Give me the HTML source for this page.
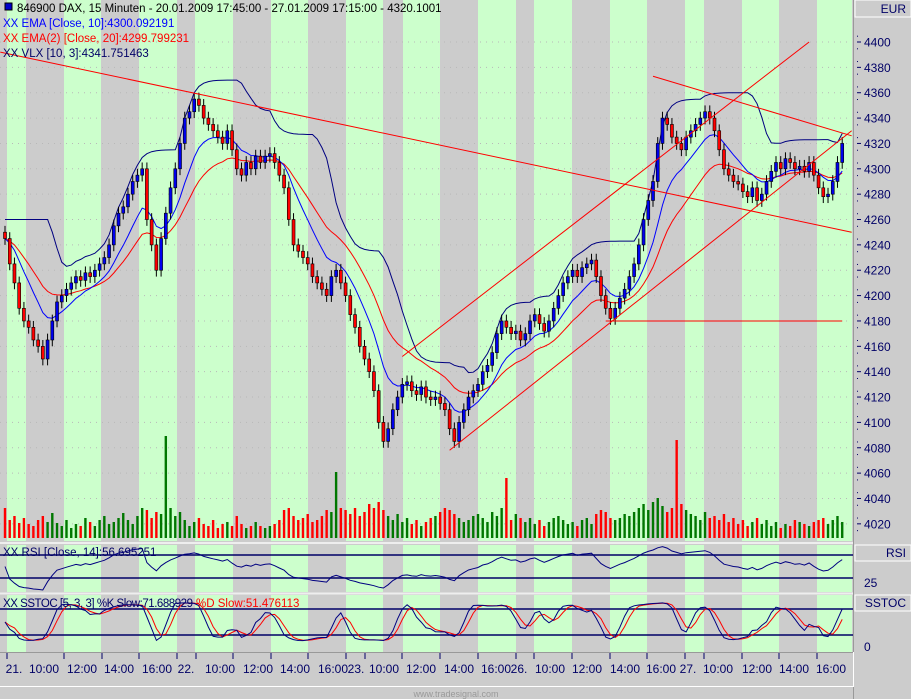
<!DOCTYPE html>
<html><head><meta charset="utf-8"><style>
html,body{margin:0;padding:0;background:#cccccc;}
svg{display:block;font-family:"Liberation Sans",sans-serif;}
</style></head><body>
<svg id="chart" width="911" height="699" viewBox="0 0 911 699" xmlns="http://www.w3.org/2000/svg">
<rect x="0" y="0" width="911" height="699" fill="#cccccc"/>
<g id="stripes"></g>
<g id="grid"></g>
<g id="vol"></g>
<g id="ind"></g>
<g id="candles"></g>
<g id="trend"></g>
<g id="sub"></g>
<g id="axes"></g>
<g font-size="11.5">
<rect x="5" y="3" width="7" height="7" fill="#0000cc" stroke="#000"/>
<text x="17" y="12" fill="#000">846900  DAX, 15 Minuten - 20.01.2009 17:45:00 - 27.01.2009 17:15:00 - 4320.1001</text>
<text x="3" y="27" fill="#0000ff">XX EMA [Close, 10]:4300.092191</text>
<text x="3" y="42" fill="#ff0000">XX EMA(2) [Close, 20]:4299.799231</text>
<text x="3" y="57" fill="#000066">XX VLX [10, 3]:4341.751463</text>
</g>
</svg>
<script>
const closes=[4245,4225,4210,4190,4180,4175,4165,4160,4150,4165,
4180,4195,4200,4205,4210,4215,4212,4218,4215,4220,
4225,4230,4240,4255,4265,4270,4280,4290,4295,4300,
4260,4240,4220,4245,4265,4285,4300,4320,4340,4345,
4355,4350,4340,4335,4330,4325,4320,4330,4315,4300,
4295,4305,4300,4310,4305,4310,4312,4305,4295,4285,
4260,4240,4235,4230,4225,4215,4210,4205,4200,4215,
4220,4210,4200,4185,4175,4160,4150,4140,4125,4100,
4085,4095,4110,4120,4130,4132,4125,4122,4128,4120,
4118,4120,4115,4110,4095,4085,4100,4110,4120,4125,
4130,4140,4145,4155,4170,4180,4175,4170,4172,4165,
4170,4180,4185,4178,4172,4180,4190,4200,4210,4215,
4220,4215,4222,4225,4228,4215,4200,4190,4182,4190,
4198,4205,4215,4225,4240,4260,4275,4290,4320,4340,
4335,4325,4320,4315,4325,4330,4335,4340,4345,4340,
4330,4315,4300,4295,4290,4288,4282,4278,4285,4275,
4280,4290,4298,4305,4300,4308,4305,4300,4302,4298,
4305,4295,4285,4278,4280,4290,4305,4320];
const volumes=[30,18,22,15,20,14,12,18,22,16,
25,15,12,18,10,14,12,20,16,12,
18,22,14,16,20,25,18,14,22,30,
28,20,26,24,102,30,22,26,18,12,
16,20,14,12,18,10,14,16,12,22,
14,10,12,16,12,10,12,14,18,28,
30,22,18,20,24,16,18,22,28,26,
66,30,28,24,30,22,26,34,30,36,
28,22,18,24,16,20,14,18,12,16,
20,22,26,30,28,24,20,16,18,22,
24,20,16,26,22,30,60,18,24,20,
16,20,14,18,12,16,20,22,18,14,
16,12,18,20,14,24,28,26,20,18,
20,24,22,26,30,34,28,36,40,32,
26,30,98,34,28,24,22,18,26,20,
22,18,24,16,20,14,18,12,16,20,
14,18,12,16,10,14,12,18,16,14,
12,16,18,20,14,18,22,16];
const priceTicks=[4400,4380,4360,4340,4320,4300,4280,4260,4240,4220,4200,4180,4160,4140,4120,4100,4080,4060,4040,4020];
const timeLabels=["21.","10:00","12:00","14:00","16:00","22.","10:00","12:00","14:00","16:00","23.","10:00","12:00","14:00","16:00","26.","10:00","12:00","14:00","16:00","27.","10:00","12:00","14:00","16:00"];
const timeLabelX=[14,44,82,119,157,186,220,258,295,333,356,384,421,459,496,519,550,587,625,661,688,718,757,794,831];
// trend lines: [barStart, priceStart, barEnd, priceEnd]
const trendLines=[[-1,4392,179,4250],[84,4152,170,4400],[94,4078,179,4330],[137,4373,179,4326],[127,4180,177,4180]];

const NS="http://www.w3.org/2000/svg";
function mk(p,t,a){const e=document.createElementNS(NS,t);for(const k in a)e.setAttribute(k,a[k]);p.appendChild(e);return e;}
const X=i=>5+i*4.73;
const Y=p=>42+(4400-p)*1.268;
const RY=v=>578-(v-30)*0.575;
const SY=v=>635-(v-20)*0.433;
const $=id=>document.getElementById(id);

const greens=[[7,26],[64,101],[139,177],[195,233],[271,308],[346,383],[403,440],[478,516],[534,572],[610,647],[685,704],[742,779],[817,852]];
const panels=[[0,541],[545,592],[595,652]];
for(const [t,b] of panels){
  const r=mk($('stripes'),'rect',{x:0,y:t,width:853,height:b-t,fill:'#cccccc'});
  
  for(const [a,c] of greens){const g=mk($('stripes'),'rect',{x:a,y:t,width:c-a,height:b-t,fill:'#ccffcc'});
  }
}
mk($('stripes'),'line',{x1:0,y1:543,x2:853,y2:543,stroke:'#eeeeee','stroke-width':2});
mk($('stripes'),'line',{x1:0,y1:593.5,x2:853,y2:593.5,stroke:'#eeeeee','stroke-width':2});
for(const p of priceTicks){const l=mk($('grid'),'line',{x1:0,y1:Y(p),x2:852,y2:Y(p),stroke:'#b8b8b8','stroke-dasharray':'1 5'});
}

const opens=closes.map((c,i)=>i?closes[i-1]:c+5);
for(let i=0;i<closes.length;i++){
  const o=opens[i],c=closes[i],x=X(i);
  const hi=Math.max(o,c)+5,lo=Math.min(o,c)-5;
  const w=mk($('candles'),'line',{x1:x,y1:Y(hi),x2:x,y2:Y(lo),stroke:'#000','stroke-width':1});
  
  const top=Y(Math.max(o,c)),bot=Y(Math.min(o,c));
  const b=mk($('candles'),'rect',{x:x-1.5,y:top,width:3,height:Math.max(1,bot-top),fill:c>=o?'#0000ee':'#ff0000',stroke:'#000','stroke-width':0.6});
  
  const v=mk($('vol'),'rect',{x:x-1.2,y:538-volumes[i],width:2.4,height:volumes[i],fill:c>=o?'#007700':'#ff0000'});
  
}
function ema(arr,n){const k=2/(n+1);const r=[];arr.forEach((v,i)=>r.push(i?r[i-1]+k*(v-r[i-1]):v));return r;}
const e10=ema(closes,10),e20=ema(closes,20);
function path(arr,fx,fy){return arr.map((v,i)=>(i?'L':'M')+fx(i).toFixed(1)+' '+fy(v).toFixed(1)).join(' ');}
let p=mk($('ind'),'path',{d:path(e20,X,Y),fill:'none',stroke:'#ff0000','stroke-width':1});

p=mk($('ind'),'path',{d:path(e10,X,Y),fill:'none',stroke:'#0000ff','stroke-width':1});

const vraw=[];let up=false;
for(let i=0;i<closes.length;i++){
  const s=closes.slice(Math.max(0,i-9),i+1);
  const hh=Math.max(...s)+15,ll=Math.min(...s)-15;
  let v=up?ll:hh;
  if(up&&closes[i]<v){up=false;v=hh;} else if(!up&&closes[i]>v){up=true;v=ll;}
  vraw.push(v);
}
const vlx=ema(vraw,3);
p=mk($('ind'),'path',{d:path(vlx,X,Y),fill:'none',stroke:'#000080','stroke-width':1});


for(const [b1,p1,b2,p2] of trendLines){const l=mk($('trend'),'line',{x1:X(b1),y1:Y(p1),x2:X(b2),y2:Y(p2),stroke:'#ff0000','stroke-width':1});
}

const rsi=[];let ag=0,al=0;
for(let i=0;i<closes.length;i++){const d=i?closes[i]-closes[i-1]:0;const g=Math.max(d,0),l=Math.max(-d,0);
ag=i?(ag*13+g)/14:1;al=i?(al*13+l)/14:1;rsi.push(100-100/(1+ag/(al||0.001)));}
for(const lv of [70,30]){const l=mk($('sub'),'line',{x1:0,y1:RY(lv),x2:853,y2:RY(lv),stroke:'#000066','stroke-width':1.5});
}
p=mk($('sub'),'path',{d:path(rsi,X,v=>Math.max(546,Math.min(591,RY(v)))),fill:'none',stroke:'#000080','stroke-width':1});

const kf=closes.map((c,i)=>{const s=closes.slice(Math.max(0,i-4),i+1);const h=Math.max(...s)+5,l=Math.min(...s)-5;return 100*(c-l)/(h-l);});
const sma=(a,n)=>a.map((v,i)=>{const s=a.slice(Math.max(0,i-n+1),i+1);return s.reduce((x,y)=>x+y,0)/s.length;});
const ks=sma(kf,3),ds=sma(ks,3);
for(const lv of [80,20]){const l=mk($('sub'),'line',{x1:0,y1:SY(lv),x2:853,y2:SY(lv),stroke:'#000066','stroke-width':1.5});
}
p=mk($('sub'),'path',{d:path(ds,X,SY),fill:'none',stroke:'#ff0000','stroke-width':1});

p=mk($('sub'),'path',{d:path(ks,X,SY),fill:'none',stroke:'#000080','stroke-width':1});

let t=mk($('sub'),'text',{x:3,y:556,'font-size':11.5,fill:'#000066'});t.textContent='XX RSI [Close, 14]:56.695251';

t=mk($('sub'),'text',{x:3,y:607,'font-size':11.5,fill:'#000066','textLength':190});t.textContent='XX SSTOC [5, 3, 3] %K Slow:71.688929';

t=mk($('sub'),'text',{x:196,y:607,'font-size':11.5,fill:'#ff0000'});t.textContent='%D Slow:51.476113';


const ax=$('axes');
mk(ax,'line',{x1:853.5,y1:0,x2:853.5,y2:699,stroke:'#999','stroke-width':1});
function box(y,h,label,nm){const r=mk(ax,'rect',{x:855,y:y,width:56,height:h,fill:'#cccccc',stroke:'#ffffff','stroke-width':1});

const tx=mk(ax,'text',{x:906,y:y+h-4,'font-size':12,fill:'#000066','text-anchor':'end'});tx.textContent=label;
}
box(0,17,'EUR','currency');box(545,16,'RSI','rsi');box(595,16,'SSTOC','sstoc');
for(const pt of priceTicks){const y=Y(pt);mk(ax,'line',{x1:857,y1:y,x2:861,y2:y,stroke:'#000066'});
for(const d of [-6.3,6.3]) mk(ax,'rect',{x:857,y:y+d,width:1,height:1,fill:'#000066'});
const tx=mk(ax,'text',{x:864,y:y+4.5,'font-size':12,fill:'#000066'});tx.textContent=pt;
}
let tx=mk(ax,'text',{x:864,y:587,'font-size':12,fill:'#000066'});tx.textContent='25';

tx=mk(ax,'text',{x:864,y:651,'font-size':12,fill:'#000066'});tx.textContent='0';

mk(ax,'line',{x1:0,y1:652.5,x2:853,y2:652.5,stroke:'#999'});
mk(ax,'polyline',{points:'0,686.5 853.5,686.5 853.5,652',fill:'none',stroke:'#ffffff'});
const tickX=[7,64,102,139,177,196,233,271,308,346,365,402,440,478,516,534,572,610,647,685,704,742,779,817];
for(const x of tickX) mk(ax,'line',{x1:x,y1:653,x2:x,y2:659,stroke:'#000066'});
timeLabels.forEach((lb,i)=>{const e=mk(ax,'text',{x:timeLabelX[i],y:673,'font-size':12,fill:'#000066','text-anchor':'middle'});e.textContent=lb;
});
tx=mk(ax,'text',{x:456,y:697,'font-size':9,fill:'#999999','text-anchor':'middle'});tx.textContent='www.tradesignal.com';

</script>
</body></html>
